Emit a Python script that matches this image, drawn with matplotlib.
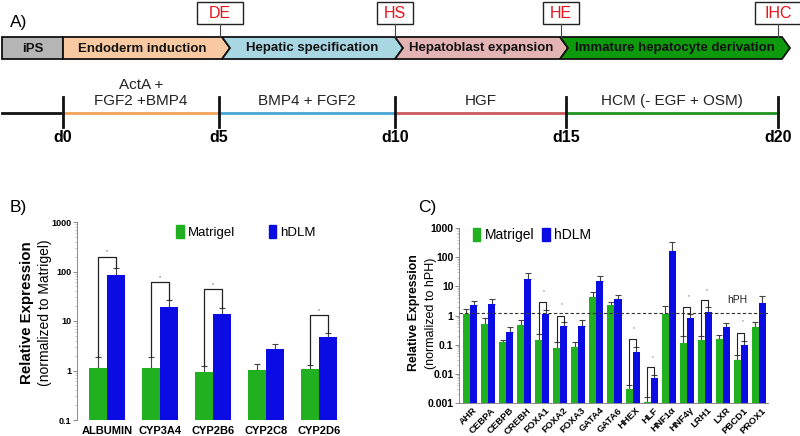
import numpy as np
import matplotlib.pyplot as plt
from matplotlib.patches import Polygon, Rectangle, Patch

plt.rcParams['font.family'] = ['Liberation Sans', 'DejaVu Sans']

# ---- panel A data ----
stages = ['iPS', 'Endoderm induction', 'Hepatic specification',
          'Hepatoblast expansion', 'Immature hepatocyte derivation']
markers = ['DE', 'HS', 'HE', 'IHC']
days = ['d0', 'd5', 'd10', 'd15', 'd20']
media = ['ActA +\nFGF2 +BMP4', 'BMP4 + FGF2', 'HGF', 'HCM (- EGF + OSM)']

# ---- panel B data ----
genes_b = ['ALBUMIN', 'CYP3A4', 'CYP2B6', 'CYP2C8', 'CYP2D6']
matrigel_b = [1.12, 1.12, 0.92, 1.03, 1.05]
matrigel_b_top = [1.9, 1.9, 1.21, 1.37, 1.31]
hdlm_b = [85, 19.5, 14, 2.7, 4.7]
hdlm_b_top = [115, 27, 18, 3.4, 5.8]
sig_b = [200, 61, 44, None, 13]

# ---- panel C data ----
genes_c = ['AHR', 'CEBPA', 'CEBPB', 'CREBH', 'FOXA1', 'FOXA2', 'FOXA3', 'GATA4',
           'GATA6', 'HHEX', 'HLF', 'HNF1α', 'HNF4γ', 'LRH1', 'LXR', 'PBCD1', 'PROX1']
matrigel_c = [1.1, 0.5, 0.12, 0.46, 0.145, 0.075, 0.083, 4.3, 2.3, 0.0031, 0.0011,
              1.1, 0.11, 0.14, 0.158, 0.031, 0.41]
matrigel_c_top = [1.65, 0.8, 0.145, 0.7, 0.23, 0.128, 0.12, 6.3, 2.9, 0.0041, 0.0016,
                  2.2, 0.2, 0.2, 0.21, 0.044, 0.62]
hdlm_c = [2.3, 2.45, 0.27, 17.8, 1.1, 0.45, 0.42, 15.6, 3.65, 0.055, 0.007,
          168, 0.83, 1.37, 0.41, 0.1, 2.66]
hdlm_c_top = [3.2, 3.7, 0.4, 28, 1.57, 0.62, 0.7, 23, 4.9, 0.081, 0.009,
              325, 1.14, 2.0, 0.54, 0.134, 4.5]
sig_c = [None, None, None, None, 2.8, 1.0, None, None, None, 0.153, 0.0177,
         None, 2.0, 3.3, None, 0.26, None]
star_c = [None, None, None, None, 6.7, 2.3, None, None, None, 0.37, 0.036,
          None, 4.3, 7.3, None, 0.62, None]
hph_level = 1.2

# ---- styles / layout ----
green = '#20b020'
blue = '#0b0be4'
stage_colors = ['#b5b5b5', '#f9c9a2', '#a9d6e3', '#e4b3b3', '#0d9b0d']
media_colors = ['#f3a25a', '#4aa4d5', '#c95a5c', '#1f921f']
stage_edges = [2, 63, 222, 395, 560, 782]
marker_x = [220, 395, 561, 778]
day_x = [63, 219, 395, 566, 778]
bar_top, bar_bot, tip = 37, 59, 8

fig = plt.figure(figsize=(8, 4.36), dpi=100)
ax_a = fig.add_axes([0, 0, 1, 1])
ax_a.set_xlim(0, 800)
ax_a.set_ylim(436, 0)
ax_a.axis('off')

# stage chevrons
mid = (bar_top + bar_bot) / 2
for i, (name, col) in enumerate(zip(stages, stage_colors)):
    s, e = stage_edges[i], stage_edges[i + 1]
    if i == 0:
        pts = [(s, bar_top), (e, bar_top), (e, bar_bot), (s, bar_bot)]
        cx = (s + e) / 2
    else:
        pts = [(s, bar_top), (e, bar_top), (e + tip, mid), (e, bar_bot), (s, bar_bot)]
        if i > 1:
            pts.append((s + tip, mid))
            cx = (s + tip + e) / 2
        else:
            cx = (s + e) / 2
    ax_a.add_patch(Polygon(pts, closed=True, facecolor=col, edgecolor='#111111', lw=1.3))
    ax_a.text(cx, mid + 0.5, name, ha='center', va='center', fontsize=9.5,
              fontweight='bold', color='#111111')

# marker boxes
for name, x in zip(markers, marker_x):
    w = 46 if name in ('DE', 'IHC') else 36
    ax_a.add_patch(Rectangle((x - w / 2, 2), w, 22, facecolor='white',
                             edgecolor='#222222', lw=1.0))
    ax_a.text(x, 13.5, name, ha='center', va='center', fontsize=11.5, color='#e8141c')
    ax_a.plot([x, x], [24, bar_top], color='#444444', lw=0.8)

# timeline
tl_y = 113
ax_a.plot([2, day_x[0]], [tl_y, tl_y], color='#111111', lw=2)
for i, col in enumerate(media_colors):
    ax_a.plot([day_x[i], day_x[i + 1]], [tl_y, tl_y], color=col, lw=2)
for d, x in zip(days, day_x):
    ax_a.plot([x, x], [97, 127], color='#111111', lw=2)
    ax_a.text(x, 137, d, ha='center', va='center', fontsize=11.5, fontweight='bold')
for i, m in enumerate(media):
    cx = (day_x[i] + day_x[i + 1]) / 2
    ax_a.text(cx, 108, m, ha='center', va='bottom', fontsize=11,
              linespacing=1.15, color='#222222')

ax_a.text(10, 23, 'A)', fontsize=12.5, va='center')
ax_a.text(10, 207, 'B)', fontsize=12.5, va='center')
ax_a.text(418, 207, 'C)', fontsize=12.5, va='center')

# y labels
ax_a.text(27, 313, 'Relative Expression', rotation=90, ha='center', va='center',
          fontsize=10.8, fontweight='bold')
ax_a.text(45, 313, '(normalized to Matrigel)', rotation=90, ha='center', va='center',
          fontsize=10)
ax_a.text(414, 313, 'Relative Expression', rotation=90, ha='center', va='center',
          fontsize=8.8, fontweight='bold')
ax_a.text(431, 313, '(normalized to hPH)', rotation=90, ha='center', va='center',
          fontsize=9)


def draw_bars(ax, vals_m, tops_m, vals_h, tops_h, w):
    x = np.arange(len(vals_m))
    ax.set_yscale('log')
    ax.bar(x - w / 2, vals_m, w, color=green, zorder=2)
    ax.bar(x + w / 2, vals_h, w, color=blue, zorder=2)
    vm, vh = np.array(vals_m), np.array(vals_h)
    ax.errorbar(x - w / 2, vm, yerr=[np.zeros_like(vm), np.array(tops_m) - vm],
                fmt='none', ecolor='#444444', elinewidth=0.8, capsize=2.2,
                capthick=0.8, zorder=1)
    ax.errorbar(x + w / 2, vh, yerr=[np.zeros_like(vh), np.array(tops_h) - vh],
                fmt='none', ecolor='#444444', elinewidth=0.8, capsize=2.2,
                capthick=0.8, zorder=1)
    return x


# ---- panel B ----
ax_b = fig.add_axes([77 / 800, 1 - 420 / 436, 268 / 800, 198 / 436])
wb = 0.34
xb = draw_bars(ax_b, matrigel_b, matrigel_b_top, hdlm_b, hdlm_b_top, wb)
for i, top in enumerate(sig_b):
    if top is None:
        continue
    ax_b.plot([xb[i] - wb / 2, xb[i] - wb / 2, xb[i] + wb / 2, xb[i] + wb / 2],
              [matrigel_b_top[i], top, top, hdlm_b_top[i]], color='#222222', lw=0.9)
    ax_b.text(xb[i], top * 1.12, '*', ha='center', va='bottom', fontsize=4, color='#555555')
ax_b.set_xlim(-0.566, 4.49)
ax_b.set_ylim(0.1, 1000)
ax_b.set_yticks([0.1, 1, 10, 100, 1000], ['0.1', '1', '10', '100', '1000'])
ax_b.set_xticks(xb, genes_b)
for lbl in ax_b.get_xticklabels():
    lbl.set_fontweight('bold')
    lbl.set_fontsize(8)
for lbl in ax_b.get_yticklabels():
    lbl.set_fontweight('bold')
    lbl.set_fontsize(6.5)
ax_b.tick_params(axis='x', length=0, pad=4)
ax_b.tick_params(axis='y', which='major', length=3, width=0.6, color='#777777', pad=1)
ax_b.tick_params(axis='y', which='minor', length=1.2, width=0.4, color='#999999')
for sp in ['top', 'right', 'bottom']:
    ax_b.spines[sp].set_visible(False)
ax_b.spines['left'].set_color('#777777')
ax_b.spines['left'].set_linewidth(0.6)
ax_b.legend(handles=[Patch(color=green, label='Matrigel'), Patch(color=blue, label='hDLM')],
            loc='center', bbox_to_anchor=(246 / 800, 1 - 232 / 436),
            bbox_transform=fig.transFigure, ncol=2, frameon=False, fontsize=9.5,
            handlelength=0.55, handleheight=1.1, handletextpad=0.3, columnspacing=2.6)

# ---- panel C ----
ax_c = fig.add_axes([459 / 800, 1 - 403 / 436, 309 / 800, 175 / 436])
wc = 0.39
xc = draw_bars(ax_c, matrigel_c, matrigel_c_top, hdlm_c, hdlm_c_top, wc)
for i, top in enumerate(sig_c):
    if top is None:
        continue
    ax_c.plot([xc[i] - wc / 2, xc[i] - wc / 2, xc[i] + wc / 2, xc[i] + wc / 2],
              [matrigel_c_top[i], top, top, hdlm_c_top[i]], color='#222222', lw=0.8)
    ax_c.text(xc[i] + 0.1, star_c[i], '*', ha='center', va='center', fontsize=3.5,
              color='#666666')
ax_c.axhline(hph_level, color='#333333', lw=0.8, ls=(0, (3, 2)), zorder=3)
ax_c.text(14.8, 3.5, 'hPH', fontsize=7.5, ha='center', va='center', color='#222222')
ax_c.set_xlim(-0.61, 16.5)
ax_c.set_ylim(0.001, 1000)
ax_c.set_yticks([0.001, 0.01, 0.1, 1, 10, 100, 1000],
                ['0.001', '0.01', '0.1', '1', '10', '100', '1000'])
ax_c.set_xticks(xc + 0.15, genes_c)
for lbl in ax_c.get_xticklabels():
    lbl.set_fontweight('bold')
    lbl.set_fontsize(6.8)
    lbl.set_rotation(45)
    lbl.set_ha('right')
    lbl.set_rotation_mode('anchor')
for lbl in ax_c.get_yticklabels():
    lbl.set_fontweight('bold')
    lbl.set_fontsize(7.5)
ax_c.tick_params(axis='x', length=0, pad=2)
ax_c.tick_params(axis='y', which='major', length=3, width=0.6, color='#777777', pad=1)
ax_c.tick_params(axis='y', which='minor', length=1.2, width=0.4, color='#999999')
for sp in ['top', 'right']:
    ax_c.spines[sp].set_visible(False)
for sp in ['left', 'bottom']:
    ax_c.spines[sp].set_color('#777777')
    ax_c.spines[sp].set_linewidth(0.6)
ax_c.legend(handles=[Patch(color=green, label='Matrigel'), Patch(color=blue, label='hDLM')],
            loc='center', bbox_to_anchor=(532 / 800, 1 - 235 / 436),
            bbox_transform=fig.transFigure, ncol=2, frameon=False, fontsize=10,
            handlelength=0.55, handleheight=1.1, handletextpad=0.3, columnspacing=0.6)

fig.savefig('out.png', dpi=100)
